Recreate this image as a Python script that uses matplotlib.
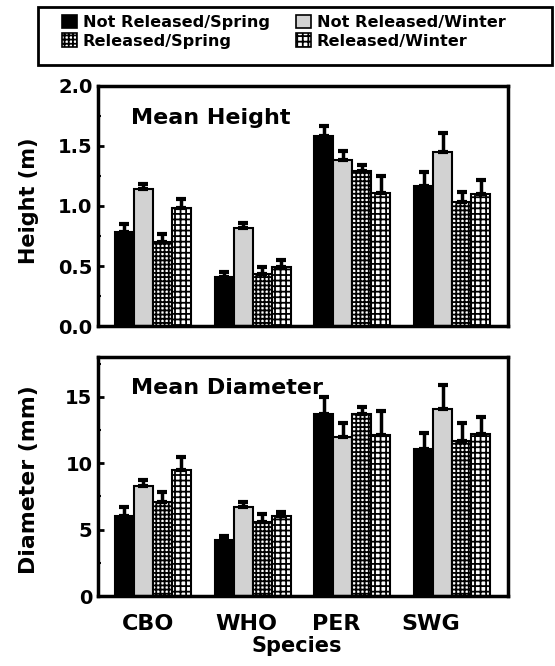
import matplotlib
matplotlib.use("Agg")
import matplotlib.pyplot as plt
import numpy as np
from matplotlib.patches import Patch, Rectangle
from matplotlib.ticker import MultipleLocator, FormatStrFormatter

plt.rcParams['font.family'] = ['DejaVu Sans']
plt.rcParams['font.weight'] = 'bold'
plt.rcParams['hatch.linewidth'] = 1.3

# Данные
species = ['CBO', 'WHO', 'PER', 'SWG']
groups = ['Not Released/Spring', 'Not Released/Winter', 'Released/Spring', 'Released/Winter']

height_mean = [
    [0.78, 0.41, 1.58, 1.17],   # Not Released/Spring
    [1.14, 0.82, 1.38, 1.45],   # Not Released/Winter
    [0.70, 0.43, 1.29, 1.03],   # Released/Spring
    [0.98, 0.49, 1.11, 1.10],   # Released/Winter
]
height_err = [
    [0.07, 0.04, 0.09, 0.11],
    [0.04, 0.04, 0.08, 0.16],
    [0.07, 0.06, 0.05, 0.09],
    [0.08, 0.06, 0.14, 0.12],
]
diam_mean = [
    [6.0, 4.2, 13.7, 11.1],
    [8.3, 6.7, 12.0, 14.1],
    [7.1, 5.6, 13.7, 11.7],
    [9.5, 6.0, 12.1, 12.2],
]
diam_err = [
    [0.7, 0.3, 1.3, 1.2],
    [0.4, 0.4, 1.0, 1.8],
    [0.7, 0.6, 0.5, 1.3],
    [1.0, 0.3, 1.8, 1.3],
]
label_shift = [-0.05, -0.06, -0.16, -0.21]

# Стили столбиков
styles = [
    dict(facecolor='black', hatch=None),
    dict(facecolor='#d2d2d2', hatch=None),
    dict(facecolor='white', hatch='++++'),
    dict(facecolor='white', hatch='+++'),
]

fig = plt.figure(figsize=(5.55, 6.66), dpi=100)
ax1 = fig.add_axes([0.1766, 0.5105, 0.7387, 0.3604])
ax2 = fig.add_axes([0.1766, 0.1051, 0.7387, 0.3589])

x = np.arange(len(species))
w = 0.19


def draw_panel(ax, means, errs, ymax, major, minor, title):
    for i in range(len(groups)):
        pos = x + (i - 1.5) * w
        ax.bar(pos, means[i], w, edgecolor='black', linewidth=1.5, **styles[i])
        ax.errorbar(pos, means[i], yerr=[[0] * len(species), errs[i]], fmt='none',
                    ecolor='black', elinewidth=2.5, capsize=3.5, capthick=3)
    ax.set_xlim(-0.55, 3.56)
    ax.set_ylim(0, ymax)
    ax.yaxis.set_major_locator(MultipleLocator(major))
    ax.yaxis.set_minor_locator(MultipleLocator(minor))
    ax.tick_params(axis='y', which='major', direction='in', length=4, width=2, labelsize=14, pad=4)
    ax.tick_params(axis='y', which='minor', direction='in', length=2.5, width=1.5)
    ax.tick_params(axis='x', length=0)
    for s in ax.spines.values():
        s.set_linewidth(2.5)
    ax.text(0.08, 0.91, title, transform=ax.transAxes, fontsize=16, fontweight='bold',
            va='top', ha='left')


draw_panel(ax1, height_mean, height_err, 2.0, 0.5, 0.25, 'Mean Height')
ax1.yaxis.set_major_formatter(FormatStrFormatter('%.1f'))
ax1.set_xticks([])
ax1.set_ylabel('Height (m)', fontsize=15, fontweight='bold')
ax1.yaxis.set_label_coords(-0.143, 0.52)

draw_panel(ax2, diam_mean, diam_err, 18, 5, 2.5, 'Mean Diameter')
ax2.set_xticks(x + np.array(label_shift))
ax2.set_xticklabels(species, fontsize=16, fontweight='bold')
ax2.tick_params(axis='x', pad=13)
ax2.set_ylabel('Diameter (mm)', fontsize=15.8, fontweight='bold')
ax2.yaxis.set_label_coords(-0.143, 0.485)
ax2.set_xlabel('Species', fontsize=15, fontweight='bold')
ax2.xaxis.set_label_coords(0.485, -0.168)

# Легенда: по строкам (matplotlib заполняет по столбцам)
order = [0, 2, 1, 3]
handles = [Patch(edgecolor='black', linewidth=1.2, **styles[i]) for i in order]
labels = [groups[i] for i in order]
leg = fig.legend(handles, labels, loc='upper left', ncol=2,
                 bbox_to_anchor=(62 / 555, 1 - 15 / 666), borderaxespad=0, borderpad=0,
                 frameon=False, handlelength=0.95, handleheight=0.9, handletextpad=0.35,
                 columnspacing=1.6, labelspacing=0.2,
                 prop={'weight': 'bold', 'size': 11.6})
fig.patches.append(Rectangle((38 / 555, 1 - 65 / 666), 514 / 555, 58 / 666,
                             transform=fig.transFigure, fill=False, linewidth=2,
                             edgecolor='black'))

plt.savefig('out.png', dpi=100)
